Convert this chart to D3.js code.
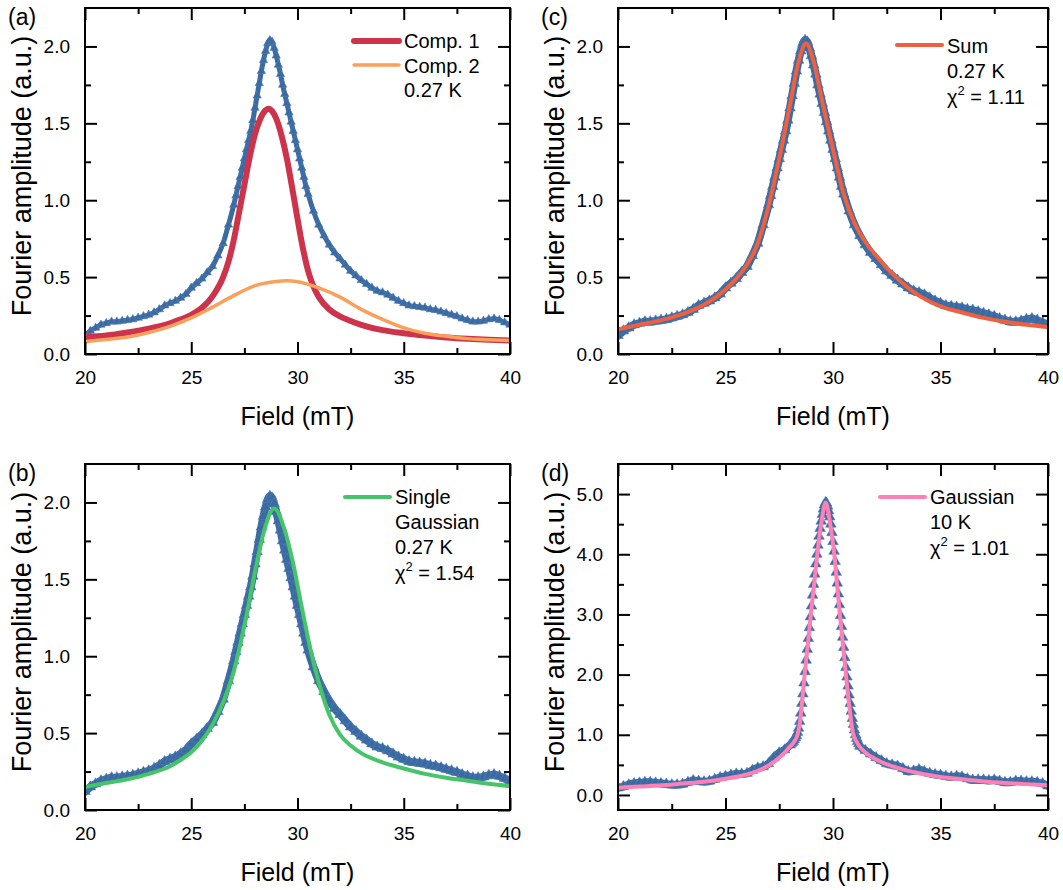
<!DOCTYPE html>
<html>
<head>
<meta charset="utf-8">
<script src="https://cdn.jsdelivr.net/npm/d3@7"></script>
<style>
  body { margin: 0; background: #fff; }
  text { font-family: "Liberation Sans", Arial, sans-serif; fill: #000; }
</style>
</head>
<body>
<div id="chart"></div>
<script>
// ---- data ----

// 0.27 K measured spectrum (panels a, b, c)
const field027 = [20.0,20.25,20.5,20.75,21.0,21.25,21.5,21.75,22.0,22.25,22.5,22.75,23.0,23.25,23.5,23.75,
  24.0,24.25,24.5,24.75,25.0,25.25,25.5,25.75,26.0,26.25,26.5,26.75,27.0,27.1,27.2,27.3,27.4,27.5,27.6,27.7,
  27.8,27.9,28.0,28.1,28.2,28.3,28.4,28.5,28.6,28.7,28.8,28.9,29.0,29.1,29.2,29.3,29.4,29.5,29.6,29.7,29.8,
  29.9,30.0,30.1,30.2,30.3,30.4,30.5,30.75,31.0,31.25,31.5,31.75,32.0,32.25,32.5,32.75,33.0,33.25,33.5,33.75,
  34.0,34.25,34.5,34.75,35.0,35.25,35.5,35.75,36.0,36.25,36.5,36.75,37.0,37.25,37.5,37.75,38.0,38.25,38.5,
  38.75,39.0,39.25,39.5,39.75,40.0];
const amp027 = [0.12,0.15,0.17,0.19,0.20,0.21,0.21,0.215,0.22,0.225,0.235,0.245,0.255,0.27,0.29,0.315,
  0.33,0.345,0.365,0.39,0.43,0.46,0.49,0.53,0.57,0.64,0.72,0.84,0.97,1.03,1.09,1.15,1.21,1.27,1.33,1.39,
  1.45,1.52,1.60,1.68,1.76,1.84,1.91,1.97,2.02,2.04,2.03,1.99,1.94,1.88,1.82,1.75,1.69,1.63,1.57,1.51,1.45,
  1.39,1.33,1.27,1.21,1.15,1.09,1.04,0.93,0.84,0.77,0.71,0.66,0.62,0.58,0.54,0.51,0.48,0.455,0.43,0.41,
  0.40,0.385,0.365,0.345,0.33,0.315,0.31,0.305,0.30,0.29,0.285,0.275,0.265,0.255,0.245,0.23,0.22,0.21,0.21,
  0.215,0.225,0.23,0.22,0.205,0.19];

// panel (a): two components
const comp1Field = [20,21,22,23,24,24.5,25,25.5,26,26.5,26.75,27,27.25,27.5,27.75,28,28.25,28.5,28.65,28.8,
  29,29.25,29.5,29.75,30,30.25,30.5,30.75,31,31.5,32,32.5,33,34,35,36,37,38,39,40];
const comp1Amp = [0.11,0.12,0.14,0.165,0.20,0.225,0.255,0.30,0.375,0.50,0.60,0.74,0.92,1.10,1.28,1.43,1.53,
  1.585,1.595,1.58,1.53,1.42,1.27,1.08,0.88,0.69,0.54,0.44,0.37,0.29,0.245,0.215,0.19,0.155,0.135,0.12,
  0.108,0.099,0.092,0.087];
const comp2Field = [20,21,22,23,24,25,26,27,28,29,29.5,30,31,32,33,34,35,36,37,38,39,40];
const comp2Amp = [0.08,0.095,0.11,0.14,0.18,0.235,0.305,0.38,0.445,0.472,0.476,0.47,0.43,0.37,0.29,0.225,
  0.17,0.135,0.115,0.10,0.093,0.087];

// panel (c): sum of components
const sumField = [20,21,22,23,24,25,25.5,26,26.5,27,27.5,28,28.4,28.75,29.1,29.5,30,30.5,31,31.5,32,32.5,
  33,33.5,34,35,36,37,38,39,40];
const sumAmp = [0.16,0.19,0.22,0.26,0.32,0.42,0.49,0.58,0.72,0.96,1.27,1.62,1.90,2.02,1.90,1.64,1.33,1.04,
  0.85,0.73,0.64,0.56,0.49,0.43,0.38,0.31,0.27,0.235,0.21,0.19,0.175];

// panel (b): single Gaussian
const gaussField = [20,21,22,23,24,24.5,25,25.5,26,26.5,27,27.5,28,28.4,28.9,29.4,29.8,30.2,30.6,31,31.5,
  32,32.5,33,34,35,36,37,38,39,40];
const gaussAmp = [0.15,0.175,0.20,0.235,0.285,0.325,0.375,0.45,0.555,0.70,0.90,1.20,1.55,1.80,1.96,1.82,
  1.60,1.32,1.05,0.83,0.62,0.49,0.42,0.37,0.31,0.27,0.235,0.21,0.19,0.17,0.155];

// panel (d): 10 K measured spectrum and Gaussian fit
const field10K = [20,20.25,20.5,20.75,21,21.25,21.5,21.75,22,22.25,22.5,22.75,23,23.25,23.5,23.75,24,24.25,
  24.5,24.75,25,25.25,25.5,25.75,26,26.25,26.5,26.75,27,27.25,27.5,27.75,28,28.05,28.1,28.15,28.2,28.25,
  28.3,28.35,28.4,28.45,28.5,28.55,28.6,28.65,28.7,28.75,28.8,28.85,28.9,28.95,29,29.05,29.1,29.15,29.2,
  29.25,29.3,29.35,29.4,29.45,29.5,29.55,29.6,29.65,29.7,29.75,29.8,29.85,29.9,29.95,30,30.05,30.1,30.15,
  30.2,30.25,30.3,30.35,30.4,30.45,30.5,30.55,30.6,30.65,30.7,30.75,30.8,30.85,30.9,30.95,31,31.05,31.1,
  31.15,31.2,31.25,31.5,31.75,32,32.25,32.5,32.75,33,33.25,33.5,33.75,34,34.25,34.5,34.75,35,35.25,35.5,
  35.75,36,36.25,36.5,36.75,37,37.25,37.5,37.75,38,38.25,38.5,38.75,39,39.25,39.5,39.75,40];
const amp10K = [0.12,0.14,0.17,0.19,0.20,0.21,0.21,0.20,0.19,0.18,0.17,0.17,0.18,0.21,0.24,0.23,0.22,0.23,
  0.26,0.29,0.31,0.33,0.35,0.35,0.36,0.41,0.45,0.47,0.52,0.62,0.70,0.75,0.83,0.85,0.87,0.89,0.92,0.95,
  0.98,1.04,1.11,1.22,1.36,1.52,1.68,1.86,2.05,2.24,2.42,2.60,2.78,2.96,3.14,3.32,3.50,3.67,3.84,
  4.00,4.15,4.30,4.43,4.55,4.66,4.75,4.82,4.86,4.85,4.80,4.72,4.62,4.50,4.36,4.21,4.05,3.88,3.70,
  3.52,3.34,3.16,2.98,2.80,2.62,2.45,2.28,2.12,1.96,1.81,1.66,1.52,1.39,1.27,1.17,1.08,1.00,0.94,
  0.89,0.85,0.81,0.74,0.68,0.62,0.57,0.52,0.50,0.48,0.44,0.39,0.40,0.42,0.39,0.36,0.34,0.33,0.31,0.30,
  0.31,0.30,0.27,0.25,0.25,0.25,0.24,0.25,0.23,0.21,0.21,0.23,0.23,0.22,0.22,0.21,0.19,0.15];
const fit10KField = [20,21,22,23,24,25,26,26.5,27,27.5,28,28.2,28.35,28.45,28.55,28.68,28.83,28.97,29.12,
  29.27,29.45,29.66,29.87,30.06,30.19,30.32,30.46,30.6,30.75,30.92,31.1,31.4,31.8,32.3,33,34,35,36,37,38,39,40];
const fit10KAmp = [0.12,0.14,0.16,0.19,0.22,0.27,0.34,0.40,0.49,0.62,0.80,0.89,1.0,1.18,1.5,2.0,2.5,3.0,3.5,
  4.0,4.5,4.86,4.5,4.0,3.5,3.0,2.5,2.0,1.5,1.05,0.88,0.74,0.63,0.54,0.45,0.36,0.30,0.26,0.225,0.20,0.18,0.16];

// ticks
const xTicks = [20, 25, 30, 35, 40];
const xMinorTicks = [22.5, 27.5, 32.5, 37.5];
const yTicks027 = [0, 0.5, 1.0, 1.5, 2.0];
const yMinor027 = [0.25, 0.75, 1.25, 1.75];
const yTicks10K = [0, 1, 2, 3, 4, 5];
const yMinor10K = [0.5, 1.5, 2.5, 3.5, 4.5];

// colours
const dataBlue = "#3a6aa1";

const svg = d3.select("#chart").append("svg")
  .attr("width", 1063)
  .attr("height", 890);

function zip(xs, ys) {
  return xs.map(function(x, i) { return {x: x, y: ys[i]}; });
}

//draws one framed panel and returns scales + plot group
function drawPanel(p) {
  const w = p.right - p.left, h = p.bottom - p.top;
  const g = svg.append("g").attr("transform", "translate(" + p.left + "," + p.top + ")");

  const x = d3.scaleLinear().domain([20, 40]).range([0, w]);
  const y = d3.scaleLinear().domain(p.yDomain).range([h, 0]);

  g.append("clipPath").attr("id", "clip-" + p.id)
    .append("rect").attr("width", w).attr("height", h);

  const plot = g.append("g").attr("clip-path", "url(#clip-" + p.id + ")");

  const fmt = d3.format(".1f");
  function clean(sel) {
    sel.select(".domain").remove();
    sel.selectAll("line").attr("stroke", "#000").attr("stroke-width", 2);
    sel.selectAll("text").attr("font-size", 19).attr("font-family", null).attr("fill", "#000");
  }

  //bottom + top
  g.append("g").attr("transform", "translate(0," + h + ")")
    .call(d3.axisBottom(x).tickValues(xTicks).tickSizeInner(-12).tickSizeOuter(0).tickPadding(17))
    .call(clean);
  g.append("g").attr("transform", "translate(0," + h + ")")
    .call(d3.axisBottom(x).tickValues(xMinorTicks).tickSizeInner(-6).tickSizeOuter(0).tickFormat(""))
    .call(clean);
  g.append("g")
    .call(d3.axisTop(x).tickValues(xTicks).tickSizeInner(-12).tickSizeOuter(0).tickFormat(""))
    .call(clean);
  g.append("g")
    .call(d3.axisTop(x).tickValues(xMinorTicks).tickSizeInner(-6).tickSizeOuter(0).tickFormat(""))
    .call(clean);

  //left + right
  g.append("g")
    .call(d3.axisLeft(y).tickValues(p.yTicks).tickSizeInner(-12).tickSizeOuter(0).tickPadding(15).tickFormat(fmt))
    .call(clean);
  g.append("g")
    .call(d3.axisLeft(y).tickValues(p.yMinor).tickSizeInner(-6).tickSizeOuter(0).tickFormat(""))
    .call(clean);
  g.append("g").attr("transform", "translate(" + w + ",0)")
    .call(d3.axisRight(y).tickValues(p.yTicks).tickSizeInner(-12).tickSizeOuter(0).tickFormat(""))
    .call(clean);
  g.append("g").attr("transform", "translate(" + w + ",0)")
    .call(d3.axisRight(y).tickValues(p.yMinor).tickSizeInner(-6).tickSizeOuter(0).tickFormat(""))
    .call(clean);

  g.append("rect")
    .attr("width", w).attr("height", h)
    .attr("fill", "none").attr("stroke", "#000").attr("stroke-width", 2);

  //axis titles
  svg.append("text")
    .attr("x", p.left + w / 2).attr("y", p.bottom + 71)
    .attr("text-anchor", "middle").attr("font-size", 25)
    .text("Field (mT)");
  svg.append("text")
    .attr("transform", "translate(" + (p.left - 54) + "," + (p.top + h / 2 - 5) + ") rotate(-90)")
    .attr("text-anchor", "middle").attr("font-size", 27)
    .text("Fourier amplitude (a.u.)");

  svg.append("text")
    .attr("x", p.left - 77).attr("y", p.top + 17)
    .attr("font-size", 23)
    .text(p.label);

  return {g: g, plot: plot, x: x, y: y};
}

//measured points: a band of small triangles
//bandMax: the joining band is only drawn below this amplitude (tails)
function drawData(panel, pts, band, size, bandMax) {
  if (band > 0) {
    const line = d3.line()
      .defined(d => d.y < bandMax)
      .x(d => panel.x(d.x)).y(d => panel.y(d.y))
      .curve(d3.curveMonotoneX);
    panel.plot.append("path")
      .datum(pts)
      .attr("d", line)
      .attr("fill", "none").attr("stroke", dataBlue).attr("stroke-width", band)
      .attr("stroke-linejoin", "round").attr("stroke-linecap", "round");
  }
  panel.plot.selectAll(".tri")
    .data(pts)
    .enter()
    .append("path")
      .attr("class", "tri")
      .attr("d", d3.symbol().type(d3.symbolTriangle).size(size))
      .attr("transform", d => "translate(" + panel.x(d.x) + "," + panel.y(d.y) + ")")
      .attr("fill", dataBlue)
      .attr("stroke", "#4f7db3").attr("stroke-width", 0.6);
}

function drawFit(panel, pts, color, width) {
  const line = d3.line().x(d => panel.x(d.x)).y(d => panel.y(d.y)).curve(d3.curveMonotoneX);
  panel.plot.append("path")
    .datum(pts)
    .attr("d", line)
    .attr("fill", "none").attr("stroke", color).attr("stroke-width", width)
    .attr("stroke-linejoin", "round").attr("stroke-linecap", "round");
}

function legendLine(x1, x2, yy, color, width) {
  svg.append("line")
    .attr("x1", x1).attr("x2", x2).attr("y1", yy).attr("y2", yy)
    .attr("stroke", color).attr("stroke-width", width).attr("stroke-linecap", "round");
}

function legendText(xx, yy, str) {
  svg.append("text").attr("x", xx).attr("y", yy).attr("font-size", 20).text(str);
}

function chiText(xx, yy, val) {
  const t = svg.append("text").attr("x", xx).attr("y", yy).attr("font-size", 20);
  t.append("tspan").text("\u03c7");
  t.append("tspan").attr("dy", -9).attr("font-size", 13).text("2");
  t.append("tspan").attr("dy", 9).text(" = " + val);
}

const data027 = zip(field027, amp027);

// (a)
const pa = drawPanel({id: "a", label: "(a)", left: 85, right: 510, top: 8, bottom: 354,
  yDomain: [0, 2.25], yTicks: yTicks027, yMinor: yMinor027});
drawData(pa, data027, 5, 30, 9);
drawFit(pa, zip(comp1Field, comp1Amp), "#cd344b", 6);
drawFit(pa, zip(comp2Field, comp2Amp), "#f9a05a", 3.5);
legendLine(354, 399, 41, "#cd344b", 6);
legendText(404, 48, "Comp. 1");
legendLine(354, 399, 65, "#f9a05a", 3.5);
legendText(404, 73, "Comp. 2");
legendText(404, 97, "0.27 K");

// (c)
const pc = drawPanel({id: "c", label: "(c)", left: 618, right: 1048, top: 8, bottom: 354,
  yDomain: [0, 2.25], yTicks: yTicks027, yMinor: yMinor027});
drawData(pc, data027, 8, 48, 9);
drawFit(pc, zip(sumField, sumAmp), "#f0603f", 4);
legendLine(897, 942, 45, "#f0603f", 4);
legendText(947, 53, "Sum");
legendText(947, 78, "0.27 K");
chiText(947, 104, "1.11");

// (b)
const pb = drawPanel({id: "b", label: "(b)", left: 85, right: 510, top: 464, bottom: 810,
  yDomain: [0, 2.25], yTicks: yTicks027, yMinor: yMinor027});
drawData(pb, data027, 8, 48, 9);
drawFit(pb, zip(gaussField, gaussAmp), "#45c46a", 4);
legendLine(345, 390, 497, "#45c46a", 4);
legendText(395, 504, "Single");
legendText(395, 529, "Gaussian");
legendText(395, 554, "0.27 K");
chiText(395, 580, "1.54");

// (d)
const pd = drawPanel({id: "d", label: "(d)", left: 618, right: 1048, top: 464, bottom: 810,
  yDomain: [-0.25, 5.5], yTicks: yTicks10K, yMinor: yMinor10K});
drawData(pd, zip(field10K, amp10K), 8, 48, 1.0);
drawFit(pd, zip(fit10KField, fit10KAmp), "#ff80b5", 4);
legendLine(880, 925, 497, "#ff80b5", 4);
legendText(930, 504, "Gaussian");
legendText(930, 529, "10 K");
chiText(930, 555, "1.01");
</script>
</body>
</html>
